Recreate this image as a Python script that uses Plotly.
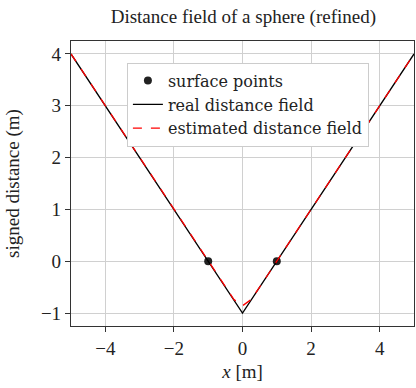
import plotly.graph_objects as go

x_vals = [-5.0, -4.5, -4.0, -3.5, -3.0, -2.5, -2.0, -1.5, -1.0, -0.75, -0.5, -0.25, 0.0,
          0.25, 0.5, 0.75, 1.0, 1.5, 2.0, 2.5, 3.0, 3.5, 4.0, 4.5, 5.0]
real_vals = [4.0, 3.5, 3.0, 2.5, 2.0, 1.5, 1.0, 0.5, 0.0, -0.25, -0.5, -0.75, -1.0,
             -0.75, -0.5, -0.25, 0.0, 0.5, 1.0, 1.5, 2.0, 2.5, 3.0, 3.5, 4.0]
est_vals = [4.0, 3.5, 3.0, 2.5, 2.0, 1.5, 1.0, 0.5, 0.0, -0.25, -0.5, -0.74, -0.86,
            -0.74, -0.5, -0.25, 0.0, 0.5, 1.0, 1.5, 2.0, 2.5, 3.0, 3.5, 4.0]
surf_x = [-1.0, 1.0]
surf_y = [0.0, 0.0]

font = "Liberation Serif"
fig = go.Figure()
fig.add_trace(go.Scatter(x=surf_x, y=surf_y, mode="markers", name="surface points",
                         marker=dict(color="#222222", size=8)))
fig.add_trace(go.Scatter(x=x_vals, y=real_vals, mode="lines", name="real distance field",
                         line=dict(color="black", width=1.3)))
fig.add_trace(go.Scatter(x=x_vals, y=est_vals, mode="lines", name="estimated distance field",
                         line=dict(color="red", width=1.3, dash="dash")))

axis_common = dict(showline=True, linecolor="#333333", linewidth=1.2, mirror=True,
                   showgrid=True, gridcolor="#d0d0d0", gridwidth=1, zeroline=False,
                   ticks="outside", ticklen=5, tickcolor="#333333", automargin=False,
                   tickfont=dict(family=font, size=19, color="#222222"))

fig.update_layout(
    width=416, height=388,
    margin=dict(l=71, r=2, t=41, b=62),
    plot_bgcolor="white", paper_bgcolor="white",
    font=dict(family=font, size=18, color="#222222"),
    title=dict(text="Distance field of a sphere (refined)", x=0.585, xanchor="center",
               y=0.958, yanchor="middle", font=dict(family=font, size=19)),
    xaxis=dict(range=[-5, 5], tickvals=[-4, -2, 0, 2, 4],
               ticktext=["\u22124", "\u22122", "0", "2", "4"],
               title=dict(text="<i>x</i> [m]", font=dict(family=font, size=19), standoff=6),
               **axis_common),
    yaxis=dict(range=[-1.25, 4.25], tickvals=[-1, 0, 1, 2, 3, 4],
               ticktext=["\u22121", "0", "1", "2", "3", "4"],
               title=dict(text="signed distance (m)", font=dict(family=font, size=19), standoff=16),
               **axis_common),
    legend=dict(x=0.163, y=0.924, xanchor="left", yanchor="top",
                bgcolor="white", bordercolor="#cccccc", borderwidth=1,
                font=dict(family="DejaVu Serif", size=16, color="#222222"),
                tracegroupgap=0, itemwidth=30),
    showlegend=True,
)

fig.write_html("out.html", config={"displayModeBar": False},
               post_script="document.body.style.margin='0px';document.body.style.overflow='hidden';")
